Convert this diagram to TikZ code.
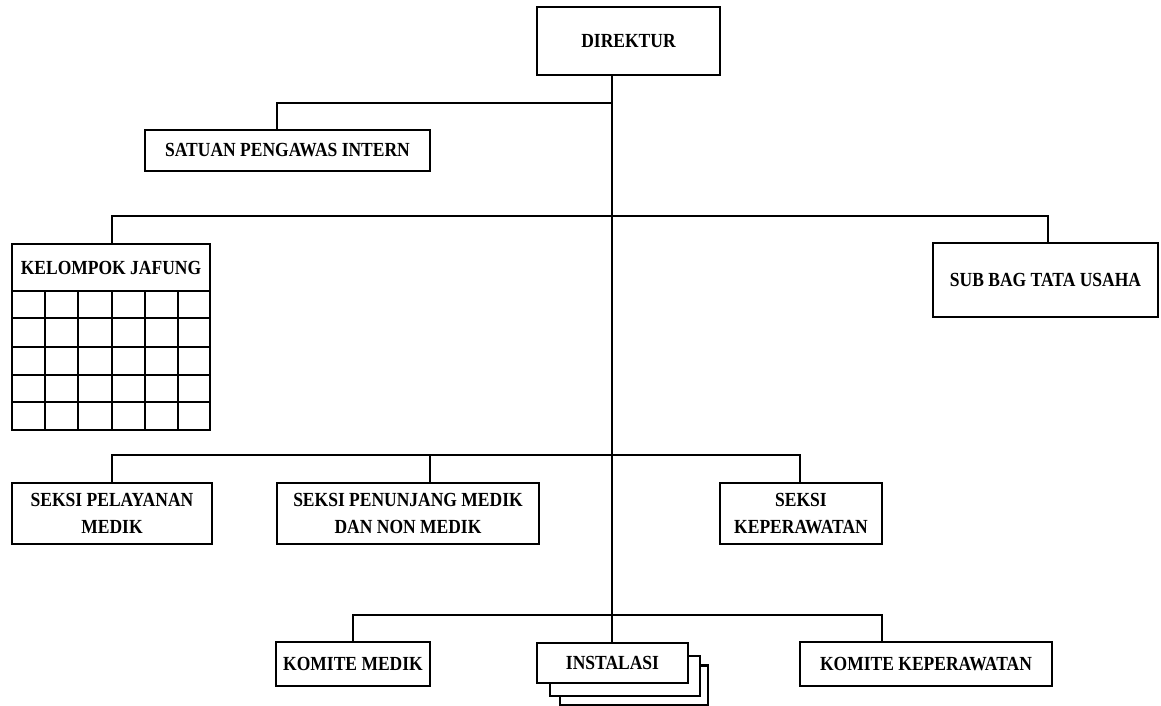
\documentclass[tikz,border=0pt]{standalone}
\usepackage{fontspec}
\setmainfont{Liberation Serif}
\newfontfamily\boxfont[FakeStretch=0.875]{Liberation Serif}
\begin{document}
\begin{tikzpicture}[x=1pt,y=-1pt,
  box/.style={draw,line width=2.8pt,fill=white,inner sep=0pt,align=center,
    font=\boxfont\fontsize{20}{26.5}\selectfont\bfseries},
  conn/.style={line width=2.8pt},
  gridline/.style={line width=2.8pt}]
\useasboundingbox (0,0) rectangle (1161,706);
% nodes
\node[box,minimum width=183pt,minimum height=68pt] (dir) at (628.5,41) {DIREKTUR};
\node[box,minimum width=285pt,minimum height=41pt] (spi) at (287.5,150.5) {SATUAN PENGAWAS INTERN};
\node[box,minimum width=198pt,minimum height=47pt] (kj) at (111,267.5) {KELOMPOK JAFUNG};
\node[box,minimum width=225pt,minimum height=74pt] (sbt) at (1045.5,280) {SUB BAG TATA USAHA};
\node[box,minimum width=200pt,minimum height=61pt] (spm) at (112,513.5) {SEKSI PELAYANAN\\MEDIK};
\node[box,minimum width=262pt,minimum height=61pt] (spn) at (408,513.5) {SEKSI PENUNJANG MEDIK\\DAN NON MEDIK};
\node[box,minimum width=162pt,minimum height=61pt] (sk) at (801,513.5) {SEKSI\\KEPERAWATAN};
\node[box,minimum width=154pt,minimum height=44pt] (km) at (353,664) {KOMITE MEDIK};
\node[box,minimum width=252pt,minimum height=44pt] (kk) at (926,664) {KOMITE KEPERAWATAN};
% instalasi stack
\node[draw,line width=2.8pt,fill=white,minimum width=148pt,minimum height=40pt,inner sep=0pt] (inst3) at (634,685.5) {};
\node[draw,line width=2.8pt,fill=white,minimum width=150pt,minimum height=40pt,inner sep=0pt] (inst2) at (625,676) {};
\node[box,minimum width=151pt,minimum height=40pt] (inst) at (612.5,663) {INSTALASI};
% jafung grid
\coordinate (g0) at (12,291);
\coordinate (g1) at (210,430);
\draw[gridline] (g0) rectangle (g1);
\foreach \yy in {318,347,375,402} \draw[gridline] (12,\yy) -- (210,\yy);
\foreach \xx in {45,78,112,145,178} \draw[gridline] (\xx,291) -- (\xx,430);
% junction coordinates
\coordinate (tr) at (612,0);
\coordinate (j1) at (277,103);
\coordinate (j2a) at (112,216);
\coordinate (j2b) at (1048,216);
\coordinate (j3a) at (112,455);
\coordinate (j3b) at (430,455);
\coordinate (j3c) at (800,455);
\coordinate (j4a) at (353,615);
\coordinate (j4b) at (882,615);
% connectors
\draw[conn] (dir.south -| tr) -- (tr |- inst.north);
\draw[conn] (tr |- j1) -- (j1) -- (j1 |- spi.north);
\draw[conn] (j2a |- kj.north) -- (j2a) -- (j2b) -- (j2b |- sbt.north);
\draw[conn] (j3a |- spm.north) -- (j3a) -- (j3c) -- (j3c |- sk.north);
\draw[conn] (j3b) -- (j3b |- spn.north);
\draw[conn] (j4a |- km.north) -- (j4a) -- (j4b) -- (j4b |- kk.north);
\end{tikzpicture}
\end{document}
